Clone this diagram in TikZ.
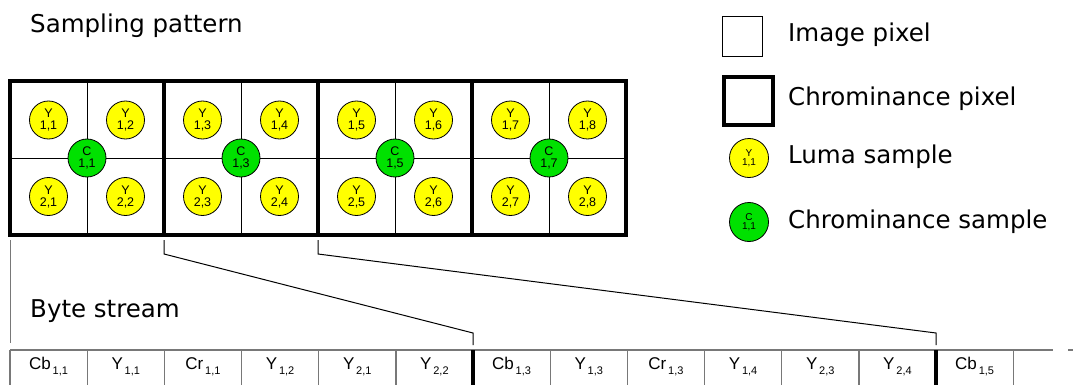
\documentclass[tikz,border=0pt]{standalone}
\usepackage{fontspec}
\setmainfont{DejaVu Sans}
\newfontfamily\arialf{Liberation Sans}
\definecolor{lumaY}{RGB}{255,255,0}
\definecolor{chromaG}{RGB}{0,225,0}
\definecolor{bytegray}{RGB}{120,120,120}
\begin{document}
\begin{tikzpicture}[x=1pt,y=-1pt,
  thinline/.style={line width=1pt},
  thickline/.style={line width=4pt},
  chromablock/.style={draw, thickline, minimum width=154pt, minimum height=153pt, inner sep=0pt, outer sep=0pt},
  lumasample/.style={circle, draw, line width=0.8pt, fill=lumaY, minimum size=38pt, inner sep=0pt, align=center, font=\arialf\fontsize{12.5}{12}\selectfont},
  chromasample/.style={lumasample, fill=chromaG},
  legsample/.style={circle, draw, line width=0.8pt, minimum size=39pt, inner sep=0pt, align=center, font=\arialf\fontsize{10}{9.5}\selectfont},
  biglabel/.style={anchor=base west, inner sep=0pt, font=\fontsize{24.5}{28}\selectfont},
  bytecell/.style={anchor=base, inner sep=0pt, font=\arialf\fontsize{17}{17}\selectfont},
  connector/.style={line width=1pt, line join=miter},
  bytegrid/.style={line width=1.3pt, draw=bytegray},
  groupsep/.style={line width=3.5pt, draw=black}
]
\useasboundingbox (0,0) rectangle (1073,385);
\clip (0,0) rectangle (1073,385);
\fill[white] (0,0) rectangle (1073,385);

% titles
\node[biglabel] (tsamp) at (30,33) {Sampling pattern};
\node[biglabel] (tbyte) at (30,317) {Byte stream};

% sampling grid
\foreach \k in {0,1,2,3}{
  \pgfmathsetmacro{\xo}{10+154*\k}
  \draw[thinline] (\xo+77,81.5) -- (\xo+77,234.5);
  \draw[thinline] (\xo,158) -- (\xo+154,158);
}
\foreach \k in {0,1,2,3}{
  \pgfmathsetmacro{\xo}{10+154*\k}
  \pgfmathtruncatemacro{\ca}{2*\k+1}
  \pgfmathtruncatemacro{\cb}{2*\k+2}
  \node[chromablock] (blk\k) at (\xo+77,158) {};
  \node[lumasample] (ya\k) at (\xo+38.5,120) {Y\\1,\ca};
  \node[lumasample] (yb\k) at (\xo+115.5,120) {Y\\1,\cb};
  \node[lumasample] (yc\k) at (\xo+38.5,196.5) {Y\\2,\ca};
  \node[lumasample] (yd\k) at (\xo+115.5,196.5) {Y\\2,\cb};
  \node[chromasample] (cc\k) at (\xo+77,158) {C\\1,\ca};
}

% legend
\node[draw, thinline, minimum width=40pt, minimum height=40pt, inner sep=0pt] (legimg) at (742.5,37) {};
\node[draw, thickline, minimum width=49pt, minimum height=48pt, inner sep=0pt] (legchr) at (748.5,101) {};
\node[legsample, fill=lumaY] (legluma) at (749,158) {Y\\1,1};
\node[legsample, fill=chromaG] (legchs) at (749,222) {C\\1,1};
\node[biglabel] (limg) at (788,42) {Image pixel};
\node[biglabel] (lchr) at (788,106) {Chrominance pixel};
\node[biglabel] (lluma) at (788,164) {Luma sample};
\node[biglabel] (lchs) at (788,228) {Chrominance sample};

% byte stream
\def\bw{77.17}
\foreach \i/\t/\s in {0/Cb/{1,1}, 1/Y/{1,1}, 2/Cr/{1,1}, 3/Y/{1,2}, 4/Y/{2,1}, 5/Y/{2,2},
                      6/Cb/{1,3}, 7/Y/{1,3}, 8/Cr/{1,3}, 9/Y/{1,4}, 10/Y/{2,3}, 11/Y/{2,4}, 12/Cb/{1,5}}{
  \node[bytecell] (b\i) at (10+\bw*\i+\bw/2,369) {\t\raisebox{-5.5pt}{\fontsize{11}{11}\selectfont\,\s}};
}
\draw[bytegrid] (10,350) -- (1053,350);
\draw[bytegrid] (1068,350) -- (1073,350);
\foreach \i in {0,1,2,3,4,5,7,8,9,10,11,13}{
  \draw[bytegrid] (10+\bw*\i,350) -- (10+\bw*\i,386);
}
\draw[groupsep] (473,350) -- (473,386);
\draw[groupsep] (936,350) -- (936,386);

% connectors
\coordinate (k1a) at (10,240);
\coordinate (k1b) at (10,343);
\coordinate (k2a) at (164,240);
\coordinate (k2m) at (164,254);
\coordinate (k2n) at (473,333);
\coordinate (k2b) at (473,345);
\coordinate (k3a) at (318,240);
\coordinate (k3m) at (318,254);
\coordinate (k3n) at (936,333);
\coordinate (k3b) at (936,345);
\draw[connector, bytegray] (k1a) -- (k1b);
\draw[connector] (k2a) -- (k2m) -- (k2n) -- (k2b);
\draw[connector] (k3a) -- (k3m) -- (k3n) -- (k3b);
\end{tikzpicture}
\end{document}
